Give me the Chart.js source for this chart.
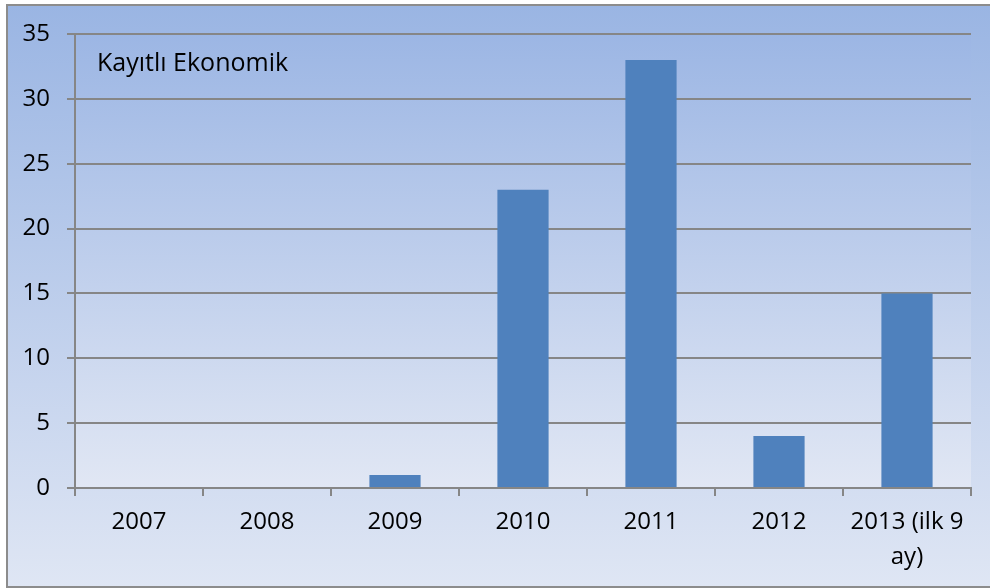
<!DOCTYPE html>
<html>
<head>
<meta charset="utf-8">
<script src="https://cdn.jsdelivr.net/npm/chart.js@4/dist/chart.umd.min.js"></script>
<style>
html,body{margin:0;padding:0;background:#fff;}
canvas{display:block;}
</style>
</head>
<body>
<canvas id="c" width="990" height="588"></canvas>
<script>
const categories = ['2007', '2008', '2009', '2010', '2011', '2012', ['2013 (ilk 9', 'ay)']];
const values = [0, 0, 1, 23, 33, 4, 15];
const chartTitle = 'Kayıtlı Ekonomik';
const yTicks = [0, 5, 10, 15, 20, 25, 30, 35];

const FONT = '"Open Sans", "Noto Sans", sans-serif';

const bgPlugin = {
  id: 'bg',
  beforeDraw(chart) {
    const ctx = chart.ctx;
    ctx.save();
    const g = ctx.createLinearGradient(0, 5, 0, 587);
    g.addColorStop(0, '#9AB5E3');
    g.addColorStop(1, '#DFE6F4');
    ctx.fillStyle = g;
    ctx.fillRect(7, 5, 990, 582);
    const a = chart.chartArea;
    const g2 = ctx.createLinearGradient(0, a.top, 0, a.bottom);
    g2.addColorStop(0, '#9CB6E4');
    g2.addColorStop(1, '#E1E7F4');
    ctx.fillStyle = g2;
    ctx.fillRect(a.left, a.top, a.right - a.left, a.bottom - a.top);
    ctx.strokeStyle = '#8C8C8C';
    ctx.lineWidth = 2;
    ctx.strokeRect(7, 5, 1000, 582);
    ctx.restore();
  },
  afterDraw(chart) {
    const ctx = chart.ctx;
    ctx.save();
    ctx.font = '25px ' + FONT;
    ctx.fillStyle = '#000';
    ctx.textBaseline = 'middle';
    ctx.textAlign = 'left';
    ctx.fillText(chartTitle, chart.chartArea.left + 22, 64);
    ctx.restore();
  }
};

new Chart(document.getElementById('c'), {
  type: 'bar',
  data: {
    labels: categories,
    datasets: [{
      data: values,
      backgroundColor: '#4F81BD',
      borderWidth: 0,
      barPercentage: 0.4,
      categoryPercentage: 1.0
    }]
  },
  options: {
    responsive: false,
    animation: false,
    devicePixelRatio: 1,
    layout: { padding: { left: 0, top: 34, right: 19, bottom: 0 } },
    plugins: {
      legend: { display: false },
      tooltip: { enabled: false },
      title: { display: false }
    },
    scales: {
      x: {
        offset: true,
        grid: {
          offset: true,
          drawOnChartArea: false,
          drawTicks: true,
          tickLength: 8,
          color: '#868686',
          lineWidth: 2
        },
        border: { display: true, color: '#868686', width: 2 },
        ticks: {
          color: '#000',
          font: { family: FONT, size: 24, lineHeight: 1.46 },
          padding: 9,
          maxRotation: 0,
          autoSkip: false
        },
        afterFit(scale) { scale.height = 100; }
      },
      y: {
        min: 0,
        max: 35,
        afterBuildTicks(scale) { scale.ticks = yTicks.map(v => ({ value: v })); },
        grid: {
          drawTicks: true,
          tickLength: 8,
          color: '#868686',
          lineWidth: 2
        },
        border: { display: true, color: '#868686', width: 2 },
        ticks: {
          color: '#000',
          font: { family: FONT, size: 24 },
          padding: 17
        },
        afterFit(scale) { scale.width = 75; }
      }
    }
  },
  plugins: [bgPlugin]
});
</script>
</body>
</html>
